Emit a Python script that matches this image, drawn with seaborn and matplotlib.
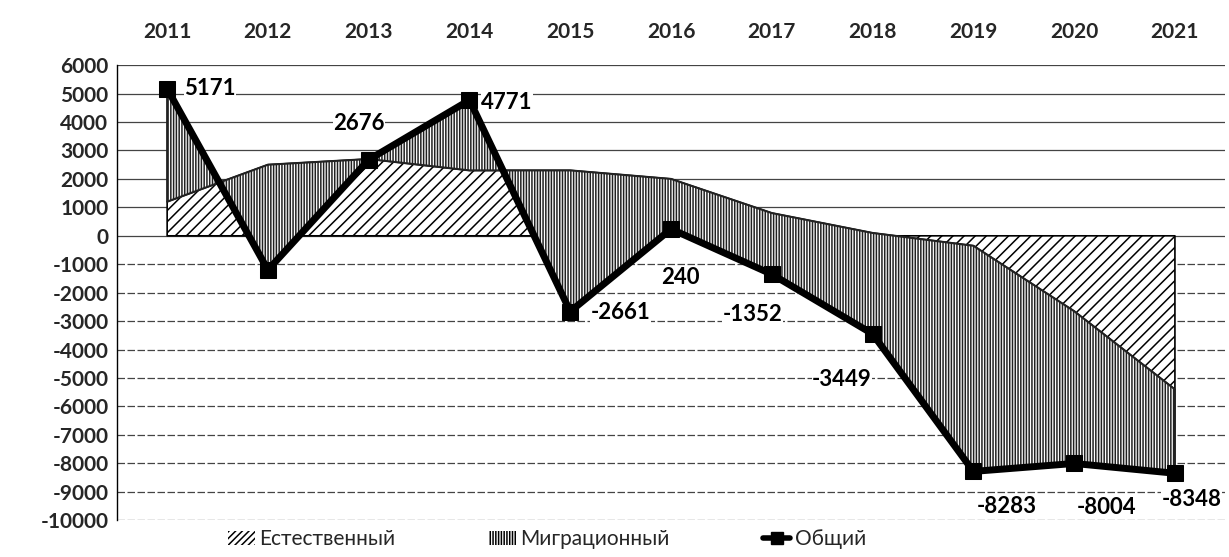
import numpy as np
import matplotlib
matplotlib.use('Agg')
import matplotlib.pyplot as plt
import seaborn as sns
import pandas as pd
from matplotlib.patches import Patch
from matplotlib.lines import Line2D

years = [2011, 2012, 2013, 2014, 2015, 2016, 2017, 2018, 2019, 2020, 2021]
natural = [1200, 2500, 2700, 2300, 2300, 2000, 800, 100, -350, -2650, -5400]
total = [5171, -1200, 2676, 4771, -2661, 240, -1352, -3449, -8283, -8004, -8348]
labels = ['5171', '', '2676', '4771', '-2661', '240', '-1352', '-3449', '-8283', '-8004', '-8348']
label_offsets = [(31, 0), (0, 0), (-7, 26), (27, -2), (36, -1), (7, -35),
                 (-14, -29), (-22, -33), (24, -25), (23, -32), (12, -19)]

df = pd.DataFrame({'year': years, 'natural': natural, 'total': total})

sns.set_theme(style='white')
plt.rcParams['font.family'] = ['Lato', 'DejaVu Sans']
plt.rcParams['axes.unicode_minus'] = False
plt.rcParams['hatch.linewidth'] = 1.1

fig = plt.figure(figsize=(12.29, 5.57), dpi=100)
ax = fig.add_axes([0.095, 0.066, 0.902, 0.817])

# horizontal grid
for v in range(-10000, 7000, 1000):
    ax.axhline(v, color='#444444', lw=0.9, ls=(0, (6, 2)) if v < 0 else '-', zorder=0)

ax.fill_between(df['year'], 0, df['natural'], facecolor='white', edgecolor='black',
                hatch='///', lw=1.2, zorder=1)
ax.fill_between(df['year'], df['natural'], df['total'], facecolor='white', edgecolor='#222222',
                hatch='||||||', lw=1.5, zorder=2)

sns.lineplot(data=df, x='year', y='total', ax=ax, color='black', lw=5,
             marker='s', markersize=12, markeredgecolor='black', zorder=4)

for x, y, t, (dx, dy) in zip(years, total, labels, label_offsets):
    if t:
        ax.annotate(t, (x, y), xytext=(dx, dy), textcoords='offset points',
                    ha='center', va='center', fontsize=16, fontweight='bold',
                    color='black', zorder=5,
                    bbox=dict(facecolor='white', edgecolor='none', pad=0.3))

ax.set_xlim(2010.5, 2021.5)
ax.set_ylim(-10000, 6000)
ax.set_yticks(range(-10000, 7000, 1000))
ax.set_yticklabels([str(v) for v in range(-10000, 7000, 1000)], fontweight='bold')
ax.set_xticks(years)
ax.set_xticklabels([str(y) for y in years], fontweight='bold')
ax.xaxis.tick_top()
ax.tick_params(axis='x', pad=17, length=0, labelsize=15)
ax.tick_params(axis='y', pad=6, length=0, labelsize=15)
ax.set_xlabel('')
ax.set_ylabel('')
for s in ['top', 'right', 'bottom']:
    ax.spines[s].set_visible(False)
ax.spines['left'].set_color('black')
ax.spines['left'].set_linewidth(1)

handles = [Patch(facecolor='white', edgecolor='black', hatch='/////', lw=0),
           Patch(facecolor='white', edgecolor='black', hatch='||||||', lw=0),
           Line2D([], [], color='black', lw=4, marker='s', markersize=9)]
fig.legend(handles, ['Естественный', 'Миграционный', 'Общий'], loc='lower center',
           bbox_to_anchor=(0.445, -0.02), ncol=3, frameon=False, fontsize=15,
           handlelength=1.3, handletextpad=0.2, columnspacing=4.5)

fig.savefig('out.png', dpi=100)
